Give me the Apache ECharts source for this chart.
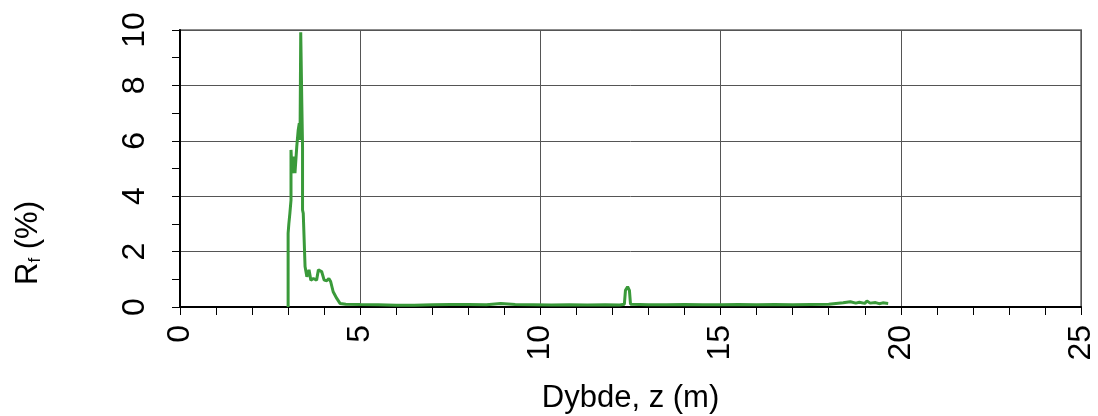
<!DOCTYPE html>
<html>
<head>
<meta charset="utf-8">
<script src="https://cdn.jsdelivr.net/npm/echarts@6/dist/echarts.min.js"></script>
<style>
  html, body { margin: 0; padding: 0; background: #fff; }
  #chart { width: 1098px; height: 416px; }
</style>
</head>
<body>
<div id="chart"></div>
<script>
// depth (m) and friction ratio (%)
const depth = [
  3.00, 3.00, 3.02, 3.05, 3.08, 3.08, 3.10, 3.13, 3.16, 3.19, 3.24, 3.28, 3.31, 3.33,
  3.35, 3.38, 3.40, 3.40, 3.42, 3.47, 3.52, 3.58, 3.63, 3.70, 3.79, 3.84, 3.88, 3.93,
  4.00, 4.07, 4.13, 4.18, 4.25, 4.35, 4.44, 4.6, 5.0, 5.5, 6.0, 6.5, 7.0, 7.5, 8.0,
  8.5, 8.9, 9.3, 9.8, 10.3, 10.8, 11.3, 11.8, 12.2, 12.33, 12.36, 12.42, 12.47, 12.5,
  12.55, 13.0, 13.5, 14.0, 14.5, 15.0, 15.5, 16.0, 16.5, 17.0, 17.5, 18.0, 18.2, 18.4,
  18.6, 18.75, 18.85, 19.0, 19.06, 19.15, 19.3, 19.4, 19.5, 19.65
];
const rf = [
  0.00, 2.66, 3.00, 3.40, 3.86, 5.67, 5.10, 4.83, 5.43, 4.83, 5.79, 6.39, 6.63, 6.03,
  9.92, 7.35, 5.79, 3.50, 3.38, 1.46, 1.09, 1.34, 0.97, 1.03, 0.97, 1.34, 1.40, 1.28,
  0.97, 0.95, 1.03, 0.92, 0.55, 0.31, 0.13, 0.10, 0.09, 0.08, 0.06, 0.06, 0.08, 0.09, 0.09,
  0.08, 0.13, 0.09, 0.08, 0.07, 0.08, 0.07, 0.08, 0.07, 0.10, 0.60, 0.73, 0.60, 0.10,
  0.09, 0.08, 0.08, 0.09, 0.08, 0.08, 0.09, 0.08, 0.09, 0.08, 0.09, 0.10, 0.13, 0.15,
  0.19, 0.14, 0.17, 0.13, 0.22, 0.14, 0.16, 0.12, 0.15, 0.13
];
const xTicks = [0, 5, 10, 15, 20, 25];
const yTicks = [0, 2, 4, 6, 8, 10];

const chart = echarts.init(document.getElementById('chart'));
const font = '"Liberation Sans", Arial, sans-serif';

chart.setOption({
  animation: false,
  grid: {
    left: 180, right: 17, top: 30, bottom: 109,
    outerBoundsMode: 'none',
    containLabel: false,
    show: true, borderColor: '#8c8c8c', borderWidth: 2
  },
  xAxis: {
    type: 'value',
    min: xTicks[0], max: xTicks[xTicks.length - 1], interval: 5,
    name: 'Dybde, z (m)',
    nameLocation: 'middle',
    nameGap: 76,
    nameTextStyle: { fontFamily: font, fontSize: 31, color: '#000' },
    axisLine: { show: true, onZero: false, lineStyle: { color: '#000', width: 2 } },
    axisTick: { show: true, length: 8, lineStyle: { color: '#000' } },
    minorTick: { show: true, splitNumber: 5, length: 8, lineStyle: { color: '#000' } },
    splitLine: { show: true, lineStyle: { color: '#555', width: 1 } },
    axisLabel: { rotate: 90, margin: 18, fontFamily: font, fontSize: 32, color: '#000' }
  },
  yAxis: {
    type: 'value',
    min: yTicks[0], max: yTicks[yTicks.length - 1], interval: 2,
    axisLine: { show: true, onZero: false, lineStyle: { color: '#000', width: 2 } },
    axisTick: { show: true, length: 8, lineStyle: { color: '#000' } },
    minorTick: { show: true, splitNumber: 2, length: 8, lineStyle: { color: '#000' } },
    splitLine: { show: true, lineStyle: { color: '#555', width: 1 } },
    axisLabel: { rotate: 90, margin: 29, fontFamily: font, fontSize: 32, color: '#000' }
  },
  graphic: [{
    type: 'text',
    x: 28, y: 243,
    rotation: Math.PI / 2,
    style: {
      text: '{a|R}{b|f}{a| (%)}',
      align: 'center',
      verticalAlign: 'middle',
      rich: {
        a: { fontFamily: font, fontSize: 31, lineHeight: 32, fill: '#000' },
        b: { fontFamily: font, fontSize: 17, lineHeight: 14, verticalAlign: 'bottom', fill: '#000' }
      }
    }
  }],
  series: [{
    type: 'line',
    data: depth.map((d, i) => [d, rf[i]]),
    showSymbol: false,
    lineStyle: { color: '#3a9a3a', width: 3 },
    clip: true
  }]
});
</script>
</body>
</html>
